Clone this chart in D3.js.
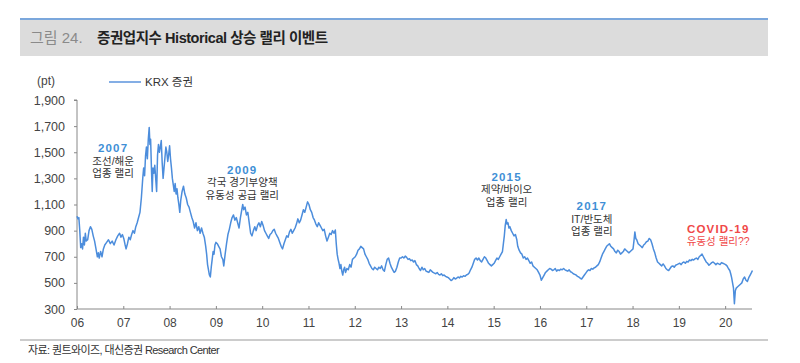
<!DOCTYPE html>
<html>
<head>
<meta charset="utf-8">
<script src="https://cdn.jsdelivr.net/npm/d3@7"></script>
<style>
  body { margin: 0; background: #fff; }
  svg text { font-family: "Liberation Sans", "Noto Sans CJK KR", sans-serif; }
</style>
</head>
<body>
<svg width="800" height="363"></svg>
<script>
const svg = d3.select("svg");

// KRX 증권 지수 (decimal year, pt)
const krxPoints = [
  [2006.00,1010],[2006.02,990],[2006.04,1000],[2006.06,900],[2006.08,770],[2006.10,800],[2006.12,760],[2006.14,850],
  [2006.16,790],[2006.18,880],[2006.20,820],[2006.23,830],[2006.26,900],[2006.29,930],[2006.32,910],[2006.35,860],
  [2006.38,820],[2006.41,760],[2006.44,700],[2006.46,730],[2006.48,690],[2006.51,740],[2006.54,700],[2006.57,760],
  [2006.60,790],[2006.64,810],[2006.68,830],[2006.72,800],[2006.76,820],[2006.80,790],[2006.84,830],[2006.88,860],
  [2006.92,880],[2006.95,850],[2006.98,870],[2007.01,840],[2007.04,790],[2007.06,760],[2007.09,800],[2007.12,850],
  [2007.15,830],[2007.18,870],[2007.21,900],[2007.24,880],[2007.27,930],[2007.30,960],[2007.33,1000],[2007.36,1040],
  [2007.39,1150],[2007.42,1300],[2007.44,1380],[2007.46,1320],[2007.48,1470],[2007.50,1540],[2007.52,1450],[2007.54,1600],
  [2007.56,1690],[2007.575,1560],[2007.59,1600],[2007.61,1350],[2007.625,1200],[2007.64,1380],[2007.66,1340],[2007.68,1400],
  [2007.70,1300],[2007.72,1200],[2007.74,1480],[2007.76,1560],[2007.78,1500],[2007.80,1540],[2007.82,1590],[2007.84,1420],
  [2007.86,1300],[2007.88,1380],[2007.90,1460],[2007.92,1540],[2007.94,1500],[2007.96,1430],[2007.98,1480],[2008.00,1550],
  [2008.02,1450],[2008.04,1380],[2008.06,1300],[2008.08,1250],[2008.10,1200],[2008.12,1260],[2008.14,1180],[2008.16,1220],
  [2008.18,1150],[2008.20,1100],[2008.22,1040],[2008.24,1130],[2008.27,1200],[2008.30,1240],[2008.33,1180],[2008.36,1150],
  [2008.39,1100],[2008.42,1080],[2008.45,1040],[2008.48,1000],[2008.51,970],[2008.54,920],[2008.57,960],[2008.60,900],
  [2008.63,930],[2008.66,880],[2008.69,920],[2008.72,880],[2008.75,850],[2008.78,780],[2008.80,720],[2008.82,640],
  [2008.84,600],[2008.86,560],[2008.88,545],[2008.90,620],[2008.92,680],[2008.94,740],[2008.96,720],[2008.98,790],
  [2009.00,810],[2009.03,800],[2009.06,780],[2009.09,760],[2009.12,700],[2009.15,680],[2009.17,630],[2009.20,720],
  [2009.23,800],[2009.26,870],[2009.29,910],[2009.32,960],[2009.35,1000],[2009.38,1020],[2009.41,980],[2009.44,1000],
  [2009.47,960],[2009.50,920],[2009.53,1000],[2009.56,1060],[2009.58,1100],[2009.60,1060],[2009.63,1080],[2009.66,1020],
  [2009.69,1040],[2009.72,960],[2009.75,880],[2009.78,860],[2009.81,900],[2009.84,930],[2009.87,900],[2009.90,940],
  [2009.93,960],[2009.96,930],[2009.99,970],[2010.02,940],[2010.05,900],[2010.08,880],[2010.11,860],[2010.14,840],
  [2010.17,870],[2010.20,880],[2010.23,900],[2010.26,910],[2010.29,880],[2010.32,860],[2010.35,840],[2010.38,810],
  [2010.41,780],[2010.44,760],[2010.47,800],[2010.50,830],[2010.53,860],[2010.56,850],[2010.59,890],[2010.62,910],
  [2010.65,880],[2010.68,900],[2010.71,920],[2010.74,950],[2010.77,990],[2010.80,960],[2010.83,980],[2010.86,1020],
  [2010.89,1060],[2010.92,1040],[2010.95,1080],[2010.98,1120],[2011.01,1100],[2011.04,1060],[2011.07,1040],[2011.10,1000],
  [2011.13,980],[2011.16,950],[2011.19,930],[2011.22,960],[2011.25,940],[2011.28,920],[2011.31,900],[2011.34,910],
  [2011.37,860],[2011.40,820],[2011.43,850],[2011.46,880],[2011.49,870],[2011.52,900],[2011.55,880],[2011.58,905],
  [2011.60,800],[2011.62,720],[2011.64,680],[2011.66,650],[2011.68,610],[2011.70,640],[2011.72,590],[2011.74,560],
  [2011.76,600],[2011.78,620],[2011.80,580],[2011.83,610],[2011.86,600],[2011.89,640],[2011.92,620],[2011.95,680],
  [2011.98,690],[2012.01,700],[2012.04,720],[2012.07,750],[2012.10,760],[2012.13,780],[2012.16,770],[2012.19,760],
  [2012.22,720],[2012.25,700],[2012.28,680],[2012.31,650],[2012.34,630],[2012.37,610],[2012.40,600],[2012.43,620],
  [2012.46,610],[2012.49,600],[2012.52,620],[2012.55,610],[2012.58,630],[2012.61,600],[2012.64,590],[2012.67,640],
  [2012.70,680],[2012.73,690],[2012.76,650],[2012.79,620],[2012.82,600],[2012.85,580],[2012.88,590],[2012.91,620],
  [2012.94,660],[2012.97,690],[2013.00,690],[2013.03,700],[2013.06,690],[2013.09,705],[2013.12,695],[2013.15,680],
  [2013.18,685],[2013.21,670],[2013.24,675],[2013.27,660],[2013.30,670],[2013.33,640],[2013.36,630],[2013.39,610],
  [2013.42,595],[2013.45,620],[2013.48,600],[2013.51,610],[2013.54,590],[2013.57,585],[2013.60,580],[2013.63,600],
  [2013.66,590],[2013.69,580],[2013.72,575],[2013.75,570],[2013.78,580],[2013.81,565],[2013.84,560],[2013.87,570],
  [2013.90,555],[2013.93,560],[2013.96,550],[2013.99,545],[2014.02,540],[2014.05,530],[2014.08,518],[2014.11,525],
  [2014.14,540],[2014.17,530],[2014.20,535],[2014.23,545],[2014.26,538],[2014.29,550],[2014.32,545],[2014.35,555],
  [2014.38,550],[2014.41,560],[2014.44,565],[2014.47,575],[2014.50,600],[2014.53,620],[2014.56,650],[2014.59,680],
  [2014.62,690],[2014.65,675],[2014.68,690],[2014.71,670],[2014.74,660],[2014.77,680],[2014.80,700],[2014.83,690],
  [2014.86,670],[2014.89,650],[2014.92,640],[2014.95,630],[2014.98,640],[2015.01,650],[2015.04,670],[2015.07,690],
  [2015.10,680],[2015.13,700],[2015.16,720],[2015.19,740],[2015.21,800],[2015.23,860],[2015.25,940],[2015.27,985],
  [2015.29,950],[2015.31,960],[2015.33,920],[2015.35,930],[2015.38,900],[2015.41,880],[2015.44,860],[2015.47,870],
  [2015.50,830],[2015.52,780],[2015.55,750],[2015.58,730],[2015.61,720],[2015.64,690],[2015.67,700],[2015.70,680],
  [2015.73,690],[2015.76,670],[2015.79,650],[2015.82,660],[2015.85,630],[2015.88,620],[2015.91,610],[2015.94,600],
  [2015.97,580],[2016.00,560],[2016.03,520],[2016.06,540],[2016.09,560],[2016.12,580],[2016.15,590],[2016.18,600],
  [2016.21,610],[2016.24,605],[2016.27,595],[2016.30,600],[2016.33,610],[2016.36,590],[2016.39,600],[2016.42,595],
  [2016.45,605],[2016.48,600],[2016.51,610],[2016.54,600],[2016.57,595],[2016.60,590],[2016.63,600],[2016.66,585],
  [2016.69,580],[2016.72,570],[2016.75,565],[2016.78,560],[2016.81,550],[2016.84,545],[2016.87,535],[2016.90,530],
  [2016.93,545],[2016.96,560],[2016.99,575],[2017.02,590],[2017.05,600],[2017.08,595],[2017.11,610],[2017.14,605],
  [2017.17,615],[2017.20,620],[2017.23,630],[2017.26,640],[2017.29,660],[2017.32,690],[2017.35,720],[2017.38,740],
  [2017.41,760],[2017.44,780],[2017.47,790],[2017.50,800],[2017.53,780],[2017.56,770],[2017.59,760],[2017.62,740],
  [2017.65,730],[2017.68,750],[2017.71,740],[2017.74,720],[2017.77,730],[2017.80,740],[2017.83,760],[2017.86,750],
  [2017.89,740],[2017.92,730],[2017.95,740],[2017.98,750],[2018.01,760],[2018.03,820],[2018.05,890],[2018.07,840],
  [2018.09,830],[2018.12,800],[2018.15,790],[2018.18,780],[2018.21,770],[2018.24,790],[2018.27,800],[2018.30,815],
  [2018.33,820],[2018.36,840],[2018.39,830],[2018.42,800],[2018.45,760],[2018.48,730],[2018.51,690],[2018.54,660],
  [2018.57,650],[2018.60,640],[2018.63,630],[2018.66,645],[2018.69,630],[2018.72,610],[2018.75,600],[2018.78,595],
  [2018.81,610],[2018.84,625],[2018.87,630],[2018.90,620],[2018.93,635],[2018.96,640],[2018.99,645],[2019.02,650],
  [2019.05,640],[2019.08,655],[2019.11,660],[2019.14,650],[2019.17,665],[2019.20,660],[2019.23,675],[2019.26,670],
  [2019.29,680],[2019.32,675],[2019.35,685],[2019.38,690],[2019.41,680],[2019.44,700],[2019.47,710],[2019.50,720],
  [2019.53,700],[2019.56,680],[2019.59,660],[2019.62,650],[2019.65,635],[2019.68,645],[2019.71,655],[2019.74,660],
  [2019.77,650],[2019.80,640],[2019.83,650],[2019.86,645],[2019.89,640],[2019.92,655],[2019.95,650],[2019.98,645],
  [2020.01,640],[2020.04,630],[2020.07,610],[2020.10,595],[2020.12,570],[2020.14,540],[2020.16,500],[2020.18,460],
  [2020.20,340],[2020.22,440],[2020.24,460],[2020.27,470],[2020.30,480],[2020.33,490],[2020.36,500],[2020.39,530],
  [2020.42,545],[2020.45,520],[2020.48,510],[2020.51,540],[2020.54,560],[2020.57,580],[2020.59,595]
];

const yTicks = [300, 500, 700, 900, 1100, 1300, 1500, 1700, 1900];
const xTicks = d3.range(2006, 2021);

// 랠리 이벤트 주석 (x: 연도, y: 지수 위치)
const events = [
  { year: "2007", lines: ["조선/해운", "업종 랠리"], x: 2006.78, y: 1500, red: false },
  { year: "2009", lines: ["각국 경기부양책", "유동성 공급 랠리"], x: 2009.57, y: 1335, red: false },
  { year: "2015", lines: ["제약/바이오", "업종 랠리"], x: 2015.28, y: 1280, red: false },
  { year: "2017", lines: ["IT/반도체", "업종 랠리"], x: 2017.12, y: 1055, red: false },
  { year: "COVID-19", lines: ["유동성 랠리??"], x: 2019.85, y: 885, red: true }
];

// 레이아웃
const margin = { left: 77, right: 752, top: 100, bottom: 309 };

const x = d3.scaleLinear().domain([2006, 2020.58]).range([margin.left, margin.right]);
const y = d3.scaleLinear().domain([300, 1900]).range([margin.bottom, margin.top]);

// 제목 영역
svg.append("rect").attr("x", 20).attr("y", 19).attr("width", 748).attr("height", 37).attr("fill", "#dcdcdc");
svg.append("line").attr("x1", 20).attr("x2", 768).attr("y1", 19).attr("y2", 19)
  .attr("stroke", "#7ba7dc").attr("stroke-width", 2);
svg.append("text").attr("x", 30).attr("y", 43).attr("font-size", 15).attr("fill", "#8a8a8a").text("그림 24.");
svg.append("text").attr("x", 97).attr("y", 43).attr("font-size", 14.5).attr("font-weight", "bold")
  .attr("letter-spacing", -0.45).attr("fill", "#222").text("증권업지수 Historical 상승 랠리 이벤트");

// y축
const yAxis = svg.append("g").attr("transform", `translate(${margin.left},0)`)
  .call(d3.axisLeft(y).tickValues(yTicks).tickSize(3).tickPadding(9).tickFormat(d3.format(",")));
yAxis.select(".domain").attr("stroke", "#888").attr("d", `M-3,${margin.top}H0V${margin.bottom}`);
yAxis.selectAll(".tick line").attr("stroke", "#888");
yAxis.selectAll("text").attr("font-size", 12.5).attr("fill", "#444");

// x축
const xAxis = svg.append("g").attr("transform", `translate(0,${margin.bottom})`)
  .call(d3.axisBottom(x).tickValues(xTicks).tickSize(-3).tickPadding(9)
    .tickFormat(d => String(d).slice(2)));
xAxis.select(".domain").attr("stroke", "#888").attr("d", `M${margin.left},0H${margin.right}`);
xAxis.selectAll(".tick line").attr("stroke", "#888");
xAxis.selectAll("text").attr("font-size", 12).attr("fill", "#444");

// 단위, 범례
svg.append("text").attr("x", 37).attr("y", 85).attr("font-size", 12).attr("fill", "#444").text("(pt)");
svg.append("line").attr("x1", 109).attr("x2", 141).attr("y1", 82).attr("y2", 82)
  .attr("stroke", "#5b93dc").attr("stroke-width", 1.5);
svg.append("text").attr("x", 145).attr("y", 86).attr("font-size", 11.5).attr("fill", "#333").text("KRX 증권");

// 라인
const line = d3.line().x(d => x(d[0])).y(d => y(d[1]));
svg.append("path").datum(krxPoints).attr("d", line)
  .attr("fill", "none").attr("stroke", "#4c8ddc").attr("stroke-width", 1.5).attr("stroke-linejoin", "round");

// 주석
events.forEach(e => {
  const g = svg.append("g").attr("text-anchor", "middle");
  g.append("text").attr("x", x(e.x)).attr("y", y(e.y)).attr("font-size", 11.5).attr("font-weight", "bold")
    .attr("letter-spacing", 1.2).attr("fill", e.red ? "#f04848" : "#3f8fd6").text(e.year);
  e.lines.forEach((t, i) => {
    g.append("text").attr("x", x(e.x)).attr("y", y(e.y) + 12.5 * (i + 1)).attr("font-size", 10.5)
      .attr("fill", e.red ? "#f04848" : "#333").text(t);
  });
});

// 출처
svg.append("line").attr("x1", 20).attr("x2", 768).attr("y1", 340).attr("y2", 340).attr("stroke", "#999");
svg.append("text").attr("x", 28).attr("y", 354).attr("font-size", 11).attr("letter-spacing", -0.6)
  .attr("fill", "#333").text("자료: 퀀트와이즈, 대신증권 Research Center");
</script>
</body>
</html>
